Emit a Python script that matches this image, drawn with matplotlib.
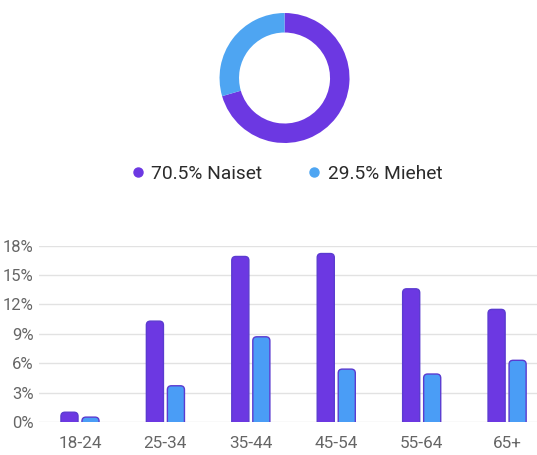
import matplotlib.pyplot as plt
from matplotlib.patches import FancyBboxPatch
from matplotlib.lines import Line2D

plt.rcParams['font.family'] = ['Roboto', 'DejaVu Sans']

# Gender split (donut)
genders = ['Naiset', 'Miehet']
gender_share = [70.5, 29.5]

# Age distribution (% of all)
age_groups = ['18-24', '25-34', '35-44', '45-54', '55-64', '65+']
women = [1.0, 10.3, 16.9, 17.2, 13.6, 11.5]
men = [0.5, 3.7, 8.7, 5.4, 4.9, 6.3]
y_ticks = [0, 3, 6, 9, 12, 15, 18]

purple = '#6c38e2'
blue = '#4a9df6'
donut_blue = '#4ea5f2'
edge = '#5b3bd0'

fig = plt.figure(figsize=(5.37, 4.55), dpi=100)

# Donut
ax_pie = fig.add_axes([0.4088, 0.6857, 0.2421, 0.2857])
ax_pie.pie(gender_share, colors=[purple, donut_blue], startangle=90,
           counterclock=False, wedgeprops=dict(width=0.3, edgecolor='none'))
ax_pie.set_xlim(-1, 1)
ax_pie.set_ylim(-1, 1)

# Legend under donut
handles = [Line2D([], [], marker='o', linestyle='', markersize=6.5,
                  markerfacecolor=c, markeredgecolor=c)
           for c in [purple, donut_blue]]
labels = [f'{v}% {g}' for v, g in zip(gender_share, genders)]
fig.legend(handles, labels, loc='center', bbox_to_anchor=(0.533, 1 - 174 / 455),
           ncol=2, frameon=False, fontsize=13.8, handlelength=0.8,
           handletextpad=0.3, columnspacing=2.3, labelcolor='#2b2b2b')

# Bar chart
ax = fig.add_axes([0.0726, 0.0725, 0.9274, 0.3875])
w = 0.2
off = 0.123
ax.set_xlim(-0.48, 5.35)
ax.set_ylim(0, 18)
for i, (f, m) in enumerate(zip(women, men)):
    for x, v, c in [(i - off, f, purple), (i + off, m, blue)]:
        p = FancyBboxPatch((x - w / 2, -1), w, v + 1,
                           boxstyle='round,pad=0,rounding_size=0.047',
                           mutation_aspect=8.7, facecolor=c, edgecolor=edge,
                           linewidth=1, zorder=3)
        ax.add_patch(p)

ax.set_yticks(y_ticks)
ax.set_yticklabels([f'{t}%' for t in y_ticks])
ax.set_xticks(range(len(age_groups)))
ax.set_xticklabels(age_groups)
ax.grid(axis='y', color='#e2e2e2', linewidth=1, zorder=0)
ax.set_axisbelow(True)
for s in ax.spines.values():
    s.set_visible(False)
ax.tick_params(axis='y', length=0, pad=4, labelsize=12, labelcolor='#666666')
ax.tick_params(axis='x', length=0, pad=10, labelsize=12.3, labelcolor='#666666')

fig.savefig('out.png', dpi=100, facecolor='white')
